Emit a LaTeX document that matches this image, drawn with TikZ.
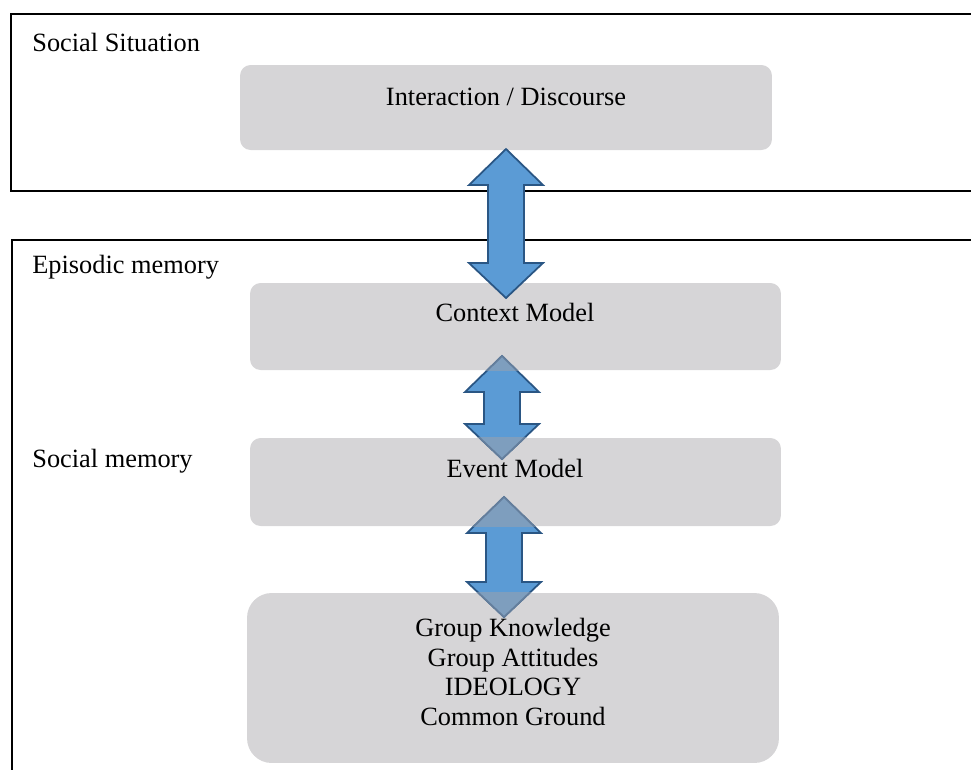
\documentclass[tikz,border=0pt]{standalone}
\usepackage{fontspec}
\setmainfont{Liberation Serif}
\usetikzlibrary{positioning}

\definecolor{boxgrey}{RGB}{214,213,215}
\definecolor{arrowblue}{RGB}{91,155,213}
\definecolor{arrowline}{RGB}{42,86,132}
\definecolor{fadeblue}{RGB}{126,158,190}
\definecolor{fadeline}{RGB}{100,126,156}

% block arrow pointing both ways: centre x, top tip y, bottom tip y
\newcommand{\dblarrowpath}[3]{(#1,#2) -- (#1+37,#2+36) -- (#1+18,#2+36) -- (#1+18,#3-35)
  -- (#1+37,#3-35) -- (#1,#3) -- (#1-37,#3-35) -- (#1-18,#3-35) -- (#1-18,#2+36)
  -- (#1-37,#2+36) -- cycle}

\tikzset{
  outerframe/.style={draw=black, line width=1.1pt},
  greybox/.style={rectangle, rounded corners=6pt, fill=boxgrey, inner sep=0pt},
  heading/.style={anchor=west, inner sep=0pt, font=\fontsize{15}{17}\selectfont},
  boxtext/.style={align=center, inner sep=0pt, font=\fontsize{15}{17}\selectfont},
  blockarrow/.style={fill=arrowblue, draw=arrowline, line width=1pt, line join=miter},
  fadedarrow/.style={fill=fadeblue, draw=fadeline, line width=1pt, line join=miter},
}

\begin{document}
\begin{tikzpicture}[x=0.02cm, y=-0.02cm]
    \useasboundingbox (0,0) rectangle (971,769);
    \clip (0,0) rectangle (971,769);

    % the two frames, cut at the page edge
    \draw[outerframe] (11,14) rectangle (990,191);
    \draw[outerframe] (12,240) rectangle (990,800);

    \node[heading] (social) at (32,42) {Social Situation};
    \node[heading] (episodic) at (32,267) {Episodic memory};
    \node[heading] (socmem) at (32,461) {Social memory};

    \node[greybox, minimum width=10.64cm, minimum height=1.70cm] (inter) at (506,107.5) {};
    \node[greybox, minimum width=10.62cm, minimum height=1.74cm] (ctx) at (515.5,326.5) {};
    \node[greybox, minimum width=10.62cm, minimum height=1.76cm] (event) at (515.5,482) {};
    \node[greybox, rounded corners=14pt, minimum width=10.64cm, minimum height=3.40cm] (group) at (513,678) {};

    % lower arrows, partly under the boxes
    \path[blockarrow] \dblarrowpath{502}{356}{459};
    \path[blockarrow] \dblarrowpath{504}{497}{617};
    \begin{scope}
        \clip (ctx.south west) rectangle (ctx.north east);
        \path[fadedarrow] \dblarrowpath{502}{356}{459};
    \end{scope}
    \begin{scope}
        \clip (event.south west) rectangle (event.north east);
        \path[fadedarrow] \dblarrowpath{502}{356}{459};
        \path[fadedarrow] \dblarrowpath{504}{497}{617};
    \end{scope}
    \begin{scope}
        \clip (group.south west) rectangle (group.north east);
        \path[fadedarrow] \dblarrowpath{504}{497}{617};
    \end{scope}

    \node[boxtext] (intertxt) at (506,97) {Interaction / Discourse};
    \node[boxtext] (ctxtxt) at (515,312) {Context Model};
    \node[boxtext] (eventtxt) at (515,468) {Event Model};
    \node[boxtext] (grouptxt) at (513,672) {Group Knowledge\\Group Attitudes\\IDEOLOGY\\Common Ground};

    % top arrow sits over everything
    \path[blockarrow] \dblarrowpath{506}{149}{298};
\end{tikzpicture}
\end{document}
